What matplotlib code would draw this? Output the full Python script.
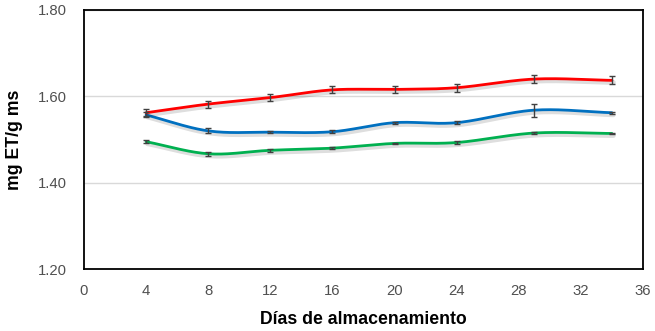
import numpy as np
import matplotlib
matplotlib.use("Agg")
import matplotlib.pyplot as plt
import matplotlib.patheffects as pe

plt.rcParams['font.family'] = ['Liberation Sans', 'DejaVu Sans']

dias = [4, 8, 12, 16, 20, 24, 29, 34]
rojo = [1.562, 1.582, 1.597, 1.615, 1.616, 1.620, 1.640, 1.637]
rojo_err = [0.008, 0.008, 0.008, 0.008, 0.009, 0.009, 0.009, 0.009]
azul = [1.557, 1.520, 1.517, 1.518, 1.539, 1.539, 1.568, 1.562]
azul_err = [0.006, 0.006, 0.002, 0.003, 0.002, 0.003, 0.015, 0.002]
verde = [1.495, 1.467, 1.475, 1.480, 1.491, 1.493, 1.515, 1.514]
verde_err = [0.003, 0.005, 0.003, 0.003, 0.002, 0.004, 0.003, 0.002]

xticks = [0, 4, 8, 12, 16, 20, 24, 28, 32, 36]
yticks = [1.20, 1.40, 1.60, 1.80]


def smooth(x, y, n=30):
    # Catmull-Rom style smoothing similar to spreadsheet smoothed lines
    x = np.asarray(x, float)
    y = np.asarray(y, float)
    px = np.concatenate([[2 * x[0] - x[1]], x, [2 * x[-1] - x[-2]]])
    py = np.concatenate([[2 * y[0] - y[1]], y, [2 * y[-1] - y[-2]]])
    xs, ys = [], []
    for i in range(1, len(px) - 2):
        p0, p1, p2, p3 = (np.array([px[j], py[j]]) for j in (i - 1, i, i + 1, i + 2))
        c1 = p1 + (p2 - p0) / 6.0
        c2 = p2 - (p3 - p1) / 6.0
        t = np.linspace(0, 1, n)[:, None]
        b = ((1 - t) ** 3) * p1 + 3 * ((1 - t) ** 2) * t * c1 + 3 * (1 - t) * t ** 2 * c2 + t ** 3 * p2
        xs.append(b[:, 0]); ys.append(b[:, 1])
    return np.concatenate(xs), np.concatenate(ys)


fig = plt.figure(figsize=(6.55, 3.31), dpi=100)
ax = fig.add_axes([0.1282, 0.1873, 0.8535, 0.7825])

shadow = [pe.SimpleLineShadow(offset=(1, -1.5), shadow_color='black', alpha=0.13, linewidth=3.5), pe.Normal()]

for y, e, c in [(verde, verde_err, '#00B050'), (azul, azul_err, '#0070C0'), (rojo, rojo_err, '#FF0000')]:
    sx, sy = smooth(dias, y)
    ax.plot(sx, sy, color=c, lw=2.0, path_effects=shadow, zorder=3, solid_capstyle='round')
    ax.errorbar(dias, y, yerr=e, fmt='none', ecolor='#404040', elinewidth=1.0,
                capsize=2.5, capthick=1.0, zorder=4)

ax.set_xlim(0, 36)
ax.set_ylim(1.20, 1.80)
ax.set_xticks(xticks)
ax.set_yticks(yticks)
ax.set_yticklabels([f"{v:.2f}" for v in yticks])
ax.tick_params(length=0, labelsize=10.7, labelcolor='#505050')
ax.tick_params(axis='x', pad=11)
ax.tick_params(axis='y', pad=12)
ax.grid(axis='y', color='#d9d9d9', lw=1.0)
ax.set_axisbelow(True)
for s in ax.spines.values():
    s.set_color('black')
    s.set_linewidth(1.3)

ax.set_xlabel('Días de almacenamiento', fontsize=12.7, fontweight='bold', labelpad=9)
ax.set_ylabel('mg ET/g ms', fontsize=12.7, fontweight='bold', labelpad=11)

fig.savefig('out.png', dpi=100)
